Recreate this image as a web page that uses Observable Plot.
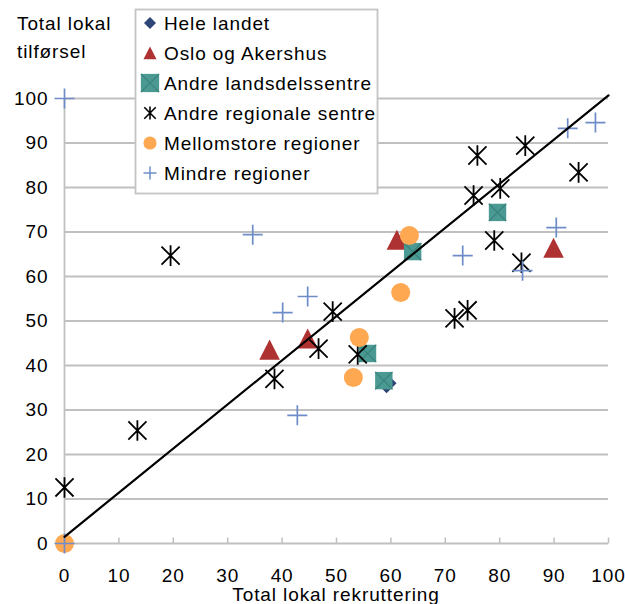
<!DOCTYPE html>
<html>
<head>
<meta charset="utf-8">
<script src="https://cdn.jsdelivr.net/npm/d3@7"></script>
<script src="https://cdn.jsdelivr.net/npm/@observablehq/plot@0.6"></script>
<style>
  html, body { margin: 0; padding: 0; background: #fff; }
  #wrap { position: relative; width: 625px; height: 604px; overflow: hidden; }
  #overlay { position: absolute; left: 0; top: 0; pointer-events: none; }
</style>
</head>
<body>
<div id="wrap"></div>
<script>
// ---------- data ----------
const xTicks = [0, 10, 20, 30, 40, 50, 60, 70, 80, 90, 100];
const yTicks = [0, 10, 20, 30, 40, 50, 60, 70, 80, 90, 100];
const xTitle = "Total lokal rekruttering";
const yTitleLines = ["Total lokal", "tilførsel"];
const seriesNames = ["Hele landet", "Oslo og Akershus", "Andre landsdelssentre",
  "Andre regionale sentre", "Mellomstore regioner", "Mindre regioner"];

const heleX = [59.2];
const heleY = [36.0];
const osloX = [37.7, 44.7, 61.1, 89.9];
const osloY = [43.5, 46.0, 68.2, 66.4];
const landsdelX = [55.7, 58.7, 64.0, 79.6];
const landsdelY = [42.7, 36.6, 65.6, 74.4];
const regionalX = [0, 13.4, 19.5, 38.6, 46.7, 49.3, 53.9, 71.7, 74.1, 75.2, 75.9, 79.0, 80.1, 84.0, 84.7, 94.5];
const regionalY = [12.6, 25.4, 64.7, 37.0, 43.8, 52.1, 42.5, 50.6, 52.4, 78.2, 87.2, 68.1, 79.8, 63.1, 89.4, 83.4];
const mellomX = [0, 53.1, 54.2, 61.8, 63.4];
const mellomY = [0, 37.3, 46.3, 56.4, 69.2];
const mindreX = [0, 0, 34.6, 40.1, 42.8, 44.7, 73.2, 84.2, 90.4, 92.5, 97.6];
const mindreY = [100, 0, 69.4, 51.9, 28.8, 55.5, 64.7, 61.3, 71.0, 93.3, 94.6];
const trendX = [0, 100];
const trendY = [1.5, 100.7];

// ---------- styles ----------
const FONT = '"Liberation Sans", Arial, sans-serif';
const FS = 19;
const LS = "0.9px";
const colors = {
  hele: "#2E4577",
  oslo: "#AE3232",
  land: "#4A9A93",
  landX: "#3A817B",
  reg: "#000000",
  mellom: "#FFA852",
  mindre: "#6E8DC8",
  grid: "#C0C0C0"
};

// ---------- custom symbols (size = pi r^2) ----------
const R = s => Math.sqrt(s / Math.PI);
const diamondSym = {draw(c, s) { const r = R(s); c.moveTo(0, -r); c.lineTo(r, 0); c.lineTo(0, r); c.lineTo(-r, 0); c.closePath(); }};
const triSym = {draw(c, s) { const r = R(s); c.moveTo(0, -r); c.lineTo(r, r * 0.95); c.lineTo(-r, r * 0.95); c.closePath(); }};
const squareSym = {draw(c, s) { const r = R(s) * 0.87; c.rect(-r, -r, 2 * r, 2 * r); }};
const timesSym = {draw(c, s) { const r = R(s) * 0.87; c.moveTo(-r, -r); c.lineTo(r, r); c.moveTo(-r, r); c.lineTo(r, -r); }};
const circleSym = {draw(c, s) { const r = R(s) * 0.95; c.moveTo(r, 0); c.arc(0, 0, r, 0, 2 * Math.PI); }};
const starSym = {draw(c, s) { const r = R(s); const d = r * 0.88; c.moveTo(0, -r); c.lineTo(0, r); c.moveTo(-d, -d); c.lineTo(d, d); c.moveTo(-d, d); c.lineTo(d, -d); }};
const plusSym = {draw(c, s) { const r = R(s); c.moveTo(-r, 0); c.lineTo(r, 0); c.moveTo(0, -r); c.lineTo(0, r); }};
const tickSym = {draw(c, s) { const r = R(s); c.moveTo(0, 0); c.lineTo(0, -r); }};

const idx = a => a.map((_, i) => i);

const chart = Plot.plot({
  width: 625,
  height: 604,
  marginLeft: 64,
  marginRight: 17,
  marginTop: 98,
  marginBottom: 61,
  style: {fontFamily: FONT, fontSize: FS + "px", color: "#000", background: "#fff", letterSpacing: LS, overflow: "visible"},
  x: {domain: [0, 100], label: null},
  y: {domain: [0, 100], label: null},
  marks: [
    Plot.ruleY(yTicks, {stroke: colors.grid, strokeWidth: 1.8}),
    Plot.ruleX([0], {stroke: colors.grid, strokeWidth: 1.8}),
    Plot.dot(xTicks, {x: d => d, y: 0, symbol: tickSym, r: 6, stroke: colors.grid, strokeWidth: 1.5, fill: "none"}),
    Plot.axisY({ticks: yTicks, tickSize: 0, tickPadding: 16, label: null, fill: "#000"}),
    Plot.axisX({ticks: xTicks, tickSize: 0, tickPadding: 25, label: null, fill: "#000"}),
    Plot.dot(idx(heleX), {x: i => heleX[i], y: i => heleY[i], symbol: diamondSym, r: 10, fill: colors.hele}),
    Plot.dot(idx(osloX), {x: i => osloX[i], y: i => osloY[i], symbol: triSym, r: 10.3, fill: colors.oslo}),
    Plot.dot(idx(landsdelX), {x: i => landsdelX[i], y: i => landsdelY[i], symbol: squareSym, r: 10, fill: colors.land}),
    Plot.dot(idx(landsdelX), {x: i => landsdelX[i], y: i => landsdelY[i], symbol: timesSym, r: 10, fill: "none", stroke: colors.landX, strokeWidth: 1.2}),
    Plot.dot(idx(regionalX), {x: i => regionalX[i], y: i => regionalY[i], symbol: starSym, r: 10.3, fill: "none", stroke: colors.reg, strokeWidth: 1.8}),
    Plot.dot(idx(mellomX), {x: i => mellomX[i], y: i => mellomY[i], symbol: circleSym, r: 10, fill: colors.mellom}),
    Plot.dot(idx(mindreX), {x: i => mindreX[i], y: i => mindreY[i], symbol: plusSym, r: 10, fill: "none", stroke: colors.mindre, strokeWidth: 1.7}),
    Plot.line(idx(trendX), {x: i => trendX[i], y: i => trendY[i], stroke: "#000", strokeWidth: 2.2})
  ]
});

const wrap = document.getElementById("wrap");
wrap.appendChild(chart);

// ---------- overlay: titles and legend ----------
const ov = d3.select(wrap).append("svg")
  .attr("id", "overlay")
  .attr("width", 625).attr("height", 604)
  .style("font-family", FONT).style("font-size", FS + "px").style("letter-spacing", LS);

ov.selectAll("text.ytitle").data(yTitleLines).join("text")
  .attr("class", "ytitle")
  .attr("x", 17).attr("y", (d, i) => 30 + i * 28)
  .attr("fill", "#000").text(d => d);

ov.append("text").attr("x", 336).attr("y", 601).attr("text-anchor", "middle")
  .attr("fill", "#000").text(xTitle);

const lg = ov.append("g");
lg.append("rect").attr("x", 135.5).attr("y", 9.5).attr("width", 242).attr("height", 184)
  .attr("fill", "#fff").attr("stroke", "#C4C4C4").attr("stroke-width", 1.8);

const legendItems = [
  {sym: diamondSym, r: 6, fill: colors.hele},
  {sym: triSym, r: 6.5, fill: colors.oslo},
  {sym: squareSym, r: 10.5, fill: colors.land, extra: {sym: timesSym, r: 10.5, stroke: colors.landX, sw: 1.2}},
  {sym: starSym, r: 6.5, stroke: colors.reg, sw: 1.6},
  {sym: circleSym, r: 6.9, fill: colors.mellom},
  {sym: plusSym, r: 6.5, stroke: colors.mindre, sw: 1.5}
];
legendItems.forEach((it, i) => {
  const cy = 23 + i * 30;
  const g = lg.append("g").attr("transform", `translate(150,${cy})`);
  g.append("path").attr("d", d3.symbol(it.sym, Math.PI * it.r * it.r)())
    .attr("fill", it.fill || "none").attr("stroke", it.stroke || "none").attr("stroke-width", it.sw || 0);
  if (it.extra) {
    g.append("path").attr("d", d3.symbol(it.extra.sym, Math.PI * it.extra.r * it.extra.r)())
      .attr("fill", "none").attr("stroke", it.extra.stroke).attr("stroke-width", it.extra.sw);
  }
  lg.append("text").attr("x", 164).attr("y", cy).attr("dy", "0.35em")
    .attr("fill", "#000").text(seriesNames[i]);
});
</script>
</body>
</html>
